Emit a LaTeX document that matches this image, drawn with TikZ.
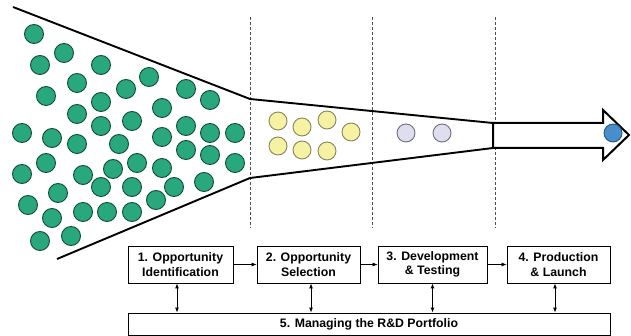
\documentclass[tikz,border=0pt]{standalone}
\usepackage{fontspec}
\setmainfont{Liberation Sans}
\usetikzlibrary{arrows.meta}
\definecolor{ideagreen}{RGB}{40,168,124}
\definecolor{ideayellow}{RGB}{246,242,164}
\definecolor{idealilac}{RGB}{222,222,240}
\definecolor{ideablue}{RGB}{72,142,204}
\tikzset{
  stage/.style={draw, line width=0.8pt, minimum height=37pt, inner sep=1pt,
    align=center, font=\bfseries\fontsize{12.3}{14.5}\selectfont},
  idea/.style={circle, minimum size=19pt, inner sep=0pt, line width=0.9pt},
  flow/.style={-{Latex[length=5pt,width=4pt]}, line width=0.7pt},
  link/.style={{Latex[length=5pt,width=4pt]}-{Latex[length=5pt,width=4pt]}, line width=0.9pt},
  gate/.style={densely dashed, line width=0.5pt, black!70}
}
\begin{document}
\begin{tikzpicture}[x=1pt,y=-1pt]
  \useasboundingbox (0,0) rectangle (631,336);

  % gates between the stages
  \foreach \gx in {250,372,495}
    \draw[gate] (\gx,17) -- (\gx,228);

  % funnel
  \draw[line width=1.9pt] (13,7) -- (250,99) -- (493,123);
  \draw[line width=1.9pt] (57,259) -- (250,178) -- (493,148);
  \draw[line width=2pt, fill=white] (493,123) -- (603,123) -- (603,110) -- (629,135)
    -- (603,160) -- (603,148) -- (493,148) -- cycle;

  % ideas
  \foreach \cx/\cy in {34/34,64/53,40/65,101/65,77/83,149/77,46/96,126/89,101/102,
      186/89,77/114,162/108,210/100,132/121,101/126,22/133,52/138,77/144,119/144,
      162/137,186/126,210/133,235/133,46/163,137/163,113/169,162/168,186/150,
      210/155,235/163,22/174,83/175,101/187,132/187,174/187,204/182,58/193,
      28/205,83/212,107/212,132/212,156/200,52/218,40/241,71/236}
    \node[idea, fill=ideagreen, draw=ideagreen!45!black] at (\cx,\cy) {};
  \foreach \cx/\cy in {278/121,302/127,327/120,351/132,278/146,302/150,327/151}
    \node[idea, minimum size=18pt, fill=ideayellow, draw=ideayellow!55!black] at (\cx,\cy) {};
  \foreach \cx in {406,442}
    \node[idea, minimum size=18pt, fill=idealilac, draw=idealilac!50!black] at (\cx,133) {};
  \node[idea, minimum size=18pt, fill=ideablue, draw=ideablue!60!black] at (613,133) {};

  % stages
  \node (S1) [stage, minimum width=105pt] at (180.5,264.5) {1. Opportunity\\Identification};
  \node (S2) [stage, minimum width=103pt] at (308.5,264.5) {2. Opportunity\\Selection};
  \node (S3) [stage, minimum width=109pt] at (432.5,264.5) {3. Development\\\& Testing};
  \node (S4) [stage, minimum width=103pt] at (558.5,264.5) {4. Production\\\& Launch};
  \node (S5) [stage, minimum width=482pt, minimum height=22pt] at (369,324)
    {5. Managing the R\&D Portfolio};

  \draw[flow] (S1) -- (S2);
  \draw[flow] (S2) -- (S3);
  \draw[flow] (S3) -- (S4);

  \draw[link] ([xshift=-3.5pt]S1.south) -- ([xshift=-3.5pt]S1.south |- S5.north);
  \draw[link] ([xshift=2.5pt]S2.south) -- ([xshift=2.5pt]S2.south |- S5.north);
  \draw[link] (S3.south) -- (S3.south |- S5.north);
  \draw[link] ([xshift=-3.5pt]S4.south) -- ([xshift=-3.5pt]S4.south |- S5.north);
\end{tikzpicture}
\end{document}
